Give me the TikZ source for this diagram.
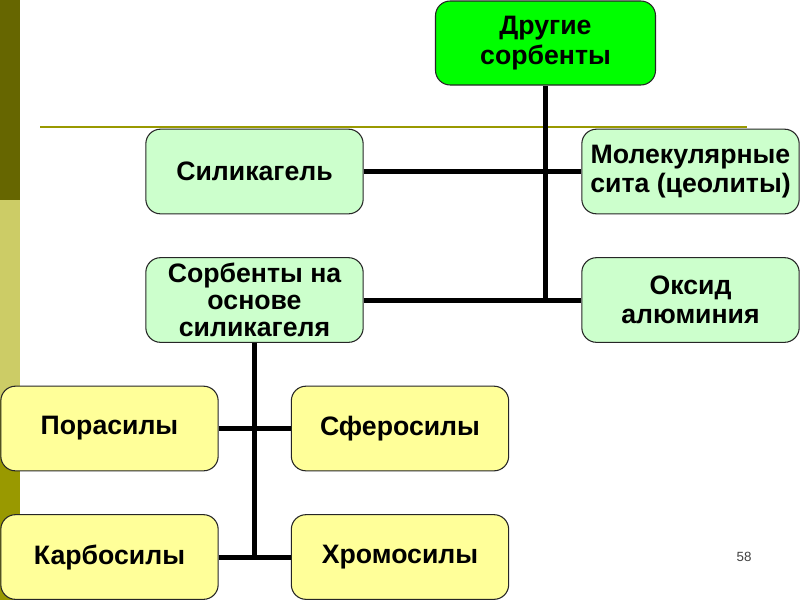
\documentclass[tikz,border=0pt]{standalone}
\usepackage{fontspec}
\setmainfont{Liberation Sans}
\begin{document}
\begin{tikzpicture}[x=0.75pt,y=-0.75pt,
  box/.style={draw=black!85,line width=0.8pt,rounded corners=11pt,align=center,
    font=\bfseries\fontsize{20}{22}\selectfont,inner sep=0pt,
    minimum width=163pt,minimum height=63.5pt},
  grn/.style={box,fill=topgreen},
  lgr/.style={box,fill=lightgreen},
  ylw/.style={box,fill=lightyellow},
  conn/.style={line width=3.75pt,draw=black}]
\definecolor{topgreen}{HTML}{00FF00}
\definecolor{lightgreen}{HTML}{CCFFCC}
\definecolor{lightyellow}{HTML}{FFFF99}
\definecolor{stripdark}{HTML}{666600}
\definecolor{striplight}{HTML}{CCCC66}
\definecolor{stripmid}{HTML}{999900}
\useasboundingbox[fill=white] (0,0) rectangle (800,600);
% background strips
\fill[stripdark] (0,0) rectangle (20,200);
\fill[striplight] (0,200) rectangle (20,400);
\fill[stripmid] (0,400) rectangle (20,600);
\draw[stripmid,line width=1.5pt] (40,127) -- (747,127);
% nodes
\node[grn,minimum width=165pt,minimum height=63pt] (dr) at (545.5,43) {Другие\\сорбенты};
\node[lgr] (sil) at (254.5,171.5) {Силикагель};
\node[lgr] (mol) at (690.5,171.5) {Молекулярные\\сита (цеолиты)};
\node[lgr,font=\bfseries\fontsize{20}{20.5}\selectfont] (sor) at (254.5,300) {Сорбенты на\\основе\\силикагеля};
\node[lgr] (ox) at (690.5,300) {Оксид\\алюминия};
\node[ylw] (por) at (109.5,428.5) {Порасилы};
\node[ylw] (sfer) at (400,428.5) {Сферосилы};
\node[ylw] (karb) at (109.5,557) {Карбосилы};
\node[ylw] (hrom) at (400,557) {Хромосилы};
\node[font=\fontsize{10}{12}\selectfont,text=black!75] (num) at (744,557) {58};
% connectors
\draw[conn] (sil.east) -- (mol.west);
\draw[conn] (sor.east) -- (ox.west);
\draw[conn] (dr.south) -- (dr.south |- ox.west);
\draw[conn] (por.east) -- (sfer.west);
\draw[conn] (karb.east) -- (hrom.west);
\draw[conn] (sor.south) -- (sor.south |- karb.east);
\end{tikzpicture}
\end{document}
